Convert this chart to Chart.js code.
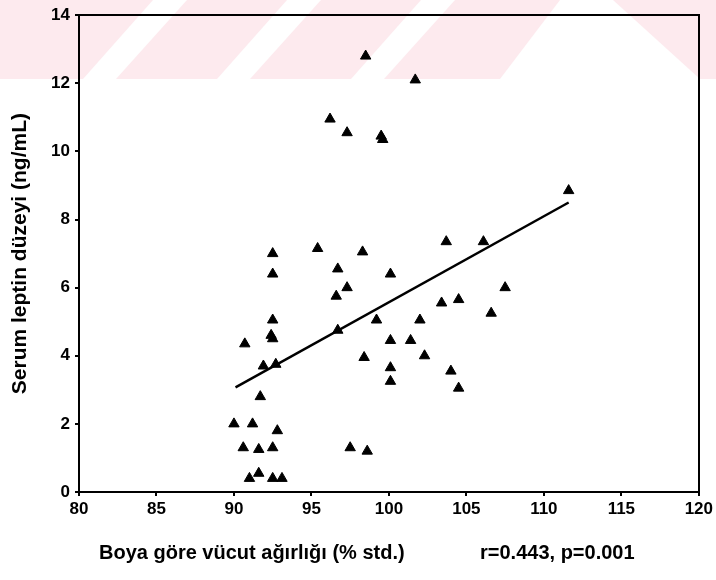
<!DOCTYPE html>
<html lang="tr">
<head>
<meta charset="utf-8">
<title>Serum leptin düzeyi</title>
<script src="https://cdn.jsdelivr.net/npm/chart.js@4.4.1/dist/chart.umd.min.js"></script>
<style>
  html, body { margin: 0; padding: 0; background: #fff; }
  #wrap { width: 716px; height: 580px; }
</style>
</head>
<body>
<div id="wrap"><canvas id="leptinChart" width="716" height="580"></canvas></div>
<script>
// --- Data ---
const weightPct = [92.5, 95.4, 98.3, 92.5, 96.7, 100.1, 97.3, 96.6, 92.5, 99.2,
                   92.4, 92.5, 90.7, 96.7, 100.1, 101.4, 98.4, 100.1, 100.1, 91.9,
                   92.7, 91.7, 90.0, 91.2, 92.8, 90.6, 91.6, 92.5, 97.5, 98.6,
                   91.0, 91.6, 92.5, 93.1, 98.5, 96.2, 97.3, 99.5, 99.6, 101.7,
                   111.6, 103.7, 106.1, 107.5, 103.4, 104.5, 106.6, 102.0, 102.3, 104.0,
                   104.5];
const leptin = [7.0, 7.15, 7.05, 6.4, 6.55, 6.4, 6.0, 5.75, 5.05, 5.05,
                4.6, 4.5, 4.35, 4.75, 4.45, 4.45, 3.95, 3.65, 3.25, 3.7,
                3.75, 2.8, 2.0, 2.0, 1.8, 1.3, 1.25, 1.3, 1.3, 1.2,
                0.4, 0.55, 0.4, 0.4, 12.8, 10.95, 10.55, 10.45, 10.35, 12.1,
                8.85, 7.35, 7.35, 6.0, 5.55, 5.65, 5.25, 5.05, 4.0, 3.55,
                3.05];
// regression line end points
const fitX = [90.1, 111.6];
const fitY = [3.07, 8.5];

const xTicks = [80, 85, 90, 95, 100, 105, 110, 115, 120];
const yTicks = [0, 2, 4, 6, 8, 10, 12, 14];

const xTitle = 'Boya göre vücut ağırlığı (% std.)';
const yTitle = 'Serum leptin düzeyi (ng/mL)';
const statText = 'r=0.443, p=0.001';

// --- Helpers ---
const FONT = '"Liberation Sans", Arial, Helvetica, sans-serif';

function toPoints(xs, ys) {
    return xs.map((x, i) => ({ x: x, y: ys[i] }));
}

function useTicks(list) {
    return function (scale) {
        scale.ticks = list.map(v => ({ value: v }));
    };
}

// pink striped band across the top of the page
const bandPlugin = {
    id: 'band',
    beforeDraw(chart) {
        const ctx = chart.ctx;
        const h = 79;
        ctx.save();
        ctx.fillStyle = '#fdeaee';
        ctx.fillRect(0, 0, chart.width, h);
        ctx.fillStyle = '#ffffff';
        for (let k = 0; k < 3; k++) {
            const b = 83 + 134 * k;
            const t = 153 + 134 * k;
            ctx.beginPath();
            ctx.moveTo(b, h);
            ctx.lineTo(t, 0);
            ctx.lineTo(t + 34, 0);
            ctx.lineTo(b + 33, h);
            ctx.closePath();
            ctx.fill();
        }
        ctx.beginPath();
        ctx.moveTo(500, h);
        ctx.lineTo(560, 0);
        ctx.lineTo(613, 0);
        ctx.lineTo(700, h);
        ctx.closePath();
        ctx.fill();
        ctx.restore();
    }
};

// axis caption and correlation note under the x axis
const captionPlugin = {
    id: 'caption',
    afterDraw(chart) {
        const ctx = chart.ctx;
        ctx.save();
        ctx.fillStyle = '#000';
        ctx.font = 'bold 20px ' + FONT;
        ctx.textAlign = 'left';
        ctx.textBaseline = 'alphabetic';
        ctx.fillText(xTitle, 99, 559);
        ctx.fillText(statText, 480, 559);
        ctx.restore();
    }
};

// --- Chart ---
function initializeLeptinChart() {
    const ctx = document.getElementById('leptinChart');

    const tickFont = { family: FONT, size: 17, weight: 'bold' };
    const tickGrid = { display: true, drawOnChartArea: false, drawTicks: true, tickLength: 4, color: '#000', lineWidth: 2 };
    const frame = { display: true, color: '#000', width: 2 };

    new Chart(ctx, {
        type: 'scatter',
        data: {
            datasets: [
                {
                    label: 'leptin',
                    data: toPoints(weightPct, leptin),
                    pointStyle: 'triangle',
                    pointRadius: 6,
                    pointBackgroundColor: '#000',
                    pointBorderColor: '#000',
                    pointBorderWidth: 1
                },
                {
                    type: 'line',
                    label: 'fit',
                    data: toPoints(fitX, fitY),
                    borderColor: '#000',
                    borderWidth: 2.5,
                    pointRadius: 0,
                    fill: false
                }
            ]
        },
        options: {
            responsive: false,
            animation: false,
            layout: { padding: { left: 8, top: 13, right: 16, bottom: 0 } },
            plugins: { legend: { display: false }, tooltip: { enabled: false } },
            scales: {
                x: {
                    type: 'linear', position: 'bottom', min: 80, max: 120,
                    afterBuildTicks: useTicks(xTicks),
                    afterFit: s => { s.height = 88; },
                    grid: tickGrid, border: frame,
                    ticks: { font: tickFont, color: '#000', padding: 3, maxRotation: 0 }
                },
                y: {
                    type: 'linear', position: 'left', min: 0, max: 14,
                    afterBuildTicks: useTicks(yTicks),
                    afterFit: s => { s.width = 71; },
                    grid: tickGrid, border: frame,
                    ticks: { font: tickFont, color: '#000', padding: 5 },
                    title: { display: true, text: yTitle, color: '#000', font: { family: FONT, size: 21, weight: 'bold' }, padding: { top: 0, bottom: 0 } }
                },
                xTop: {
                    type: 'linear', position: 'top', min: 80, max: 120,
                    afterFit: s => { s.height = 0; },
                    grid: { display: false }, border: frame, ticks: { display: false }
                },
                yRight: {
                    type: 'linear', position: 'right', min: 0, max: 14,
                    afterFit: s => { s.width = 0; },
                    grid: { display: false }, border: frame, ticks: { display: false }
                }
            }
        },
        plugins: [bandPlugin, captionPlugin]
    });
}

initializeLeptinChart();
</script>
</body>
</html>
